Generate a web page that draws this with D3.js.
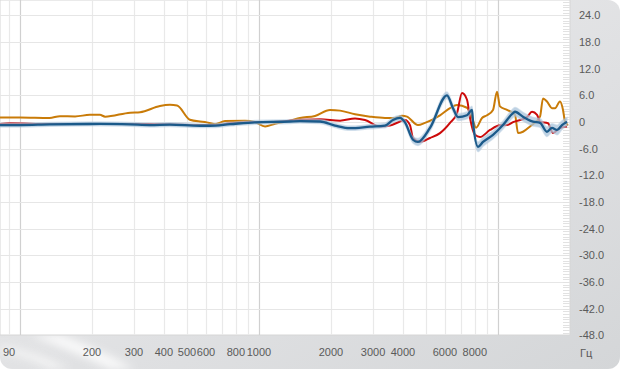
<!DOCTYPE html>
<html>
<head>
<meta charset="utf-8">
<script src="https://d3js.org/d3.v7.min.js"></script>
<style>
  body { margin: 0; background: #fff; }
  svg { display: block; font-family: "Liberation Sans", Arial, sans-serif; }
</style>
</head>
<body>
<script>
// frequency response, three measurements

var yTicks = [24, 18, 12, 6, 0, -6, -12, -18, -24, -30, -36, -42, -48];
var xLabels = [90, 200, 300, 400, 500, 600, 800, 1000, 2000, 3000, 4000, 6000, 8000];

var orangeF = [82, 100, 133, 147, 170, 196, 216, 227, 289, 318, 385, 424, 454, 514, 566, 594, 655, 721, 874, 962,
  1060, 1167, 1348, 1484, 1715, 1982, 2183, 2522, 2914, 3367, 3707, 3966, 4162, 4626, 4950, 5719, 6298, 6738,
  7419, 7785, 8091, 8573, 8995, 9530, 9904, 10190, 10910, 11780, 12130, 12720, 13610, 14990, 15430, 16030,
  16820, 17320, 18170, 18710, 19070, 19630];
var orangeDb = [1.0, 1.0, 0.9, 1.3, 1.25, 1.6, 1.6, 1.2, 2.1, 2.2, 3.6, 3.85, 3.7, 0.5, 0.1, 0.0, -0.5, 0.2, 0.3, 0.0,
  -1.0, -0.4, 0.3, 0.9, 1.35, 2.7, 2.55, 1.75, 1.2, 0.9, 0.9, 1.4, 1.2, -0.7, -0.2, 1.5, 3.1, 3.8,
  3.2, 1.0, -1.3, 0.9, 1.5, 2.7, 6.8, 3.5, 2.7, 1.6, -2.5, -2.2, -1.0, 1.2, 5.3, 4.6,
  3.1, 3.1, 4.6, 2.7, 0.1, -0.7];

var redF = [82, 91, 133, 350, 566, 655, 756, 917, 1112, 1484, 1800, 2183, 2522, 2777, 3208, 3533, 3890, 4082,
  4283, 4409, 4717, 5194, 5719, 6298, 6738, 7071, 7419, 7636, 8013, 8408, 9259, 10190, 10910, 11560, 13220,
  13880, 14570, 14990, 16190, 16990, 18170, 19440];
var redDb = [-0.45, -0.3, -0.45, -0.45, -0.7, -0.7, -0.3, -0.05, 0.0, 0.45, 0.6, 0.3, 0.8, 0.45, -1.0, -0.8, 0.1, 0.45,
  -0.7, -3.6, -4.5, -3.6, -2.5, -0.2, 2.0, 6.5, 5.0, 0.9, -2.9, -3.4, -1.8, -0.75, -0.7, -0.05, 1.1,
  2.3, 1.6, 0.05, -0.3, -2.5, -1.35, -1.0];

var blueF = [82, 100, 133, 216, 289, 350, 424, 566, 624, 756, 962, 1348, 1484, 1800, 2080, 2403, 2914, 3367, 3637,
  3890, 4082, 4409, 4626, 5194, 6118, 6482, 6803, 7419, 7785, 7861, 8249, 8656, 9530, 10490, 11560, 11780,
  12720, 14010, 14990, 16030, 16820, 17660, 18520, 19440];
var blueDb = [-0.7, -0.7, -0.55, -0.45, -0.55, -0.7, -0.6, -0.85, -0.85, -0.5, -0.07, 0.1, 0.2, 0.1, -0.8, -1.4, -1.05, -0.8, 0.45,
  0.9, -0.1, -4.0, -4.5, -1.35, 6.0, 3.1, 1.1, 1.5, 2.7, 0.0, -5.6, -4.5, -2.9, -0.7, 2.0, 2.3,
  1.2, 0.07, -0.2, -2.2, -1.35, -1.8, -0.7, 0.07];
// spread of the blue measurement (dB either side)
var blueSpread = [0.15, 0.15, 0.15, 0.15, 0.15, 0.15, 0.15, 0.15, 0.15, 0.15, 0.15, 0.15, 0.15, 0.2, 0.2, 0.2, 0.2, 0.25, 0.3,
  0.3, 0.35, 0.45, 0.5, 0.45, 0.5, 0.5, 0.5, 0.5, 0.55, 0.6, 0.8, 0.7, 0.6, 0.6, 0.7, 0.7,
  0.7, 0.7, 0.7, 0.8, 0.7, 0.8, 0.7, 0.6];

var W = 620, H = 369;
var plotW = 570, plotH = 335;

var svg = d3.select('body').append('svg')
  .attr('width', W)
  .attr('height', H);

var defs = svg.append('defs');
var grad = defs.append('linearGradient').attr('id', 'frame')
  .attr('x1', 0).attr('y1', 0).attr('x2', 1).attr('y2', 1);
grad.append('stop').attr('offset', '0%').attr('stop-color', '#eeeeef');
grad.append('stop').attr('offset', '60%').attr('stop-color', '#dfe0e2');
grad.append('stop').attr('offset', '100%').attr('stop-color', '#d4d6d8');

defs.append('filter').attr('id', 'blur')
  .append('feGaussianBlur').attr('stdDeviation', 4);

defs.append('clipPath').attr('id', 'plotclip')
  .append('rect').attr('width', plotW).attr('height', plotH);

// outer frame
svg.append('rect')
  .attr('width', W).attr('height', H)
  .attr('rx', 12).attr('ry', 12)
  .attr('fill', 'url(#frame)');

// light streaks at bottom left
var streaks = svg.append('g').attr('filter', 'url(#blur)').attr('opacity', 0.8);
streaks.append('path')
  .attr('d', 'M30,335 Q70,350 110,369 L135,369 Q90,345 60,335 Z')
  .attr('fill', '#ffffff');
streaks.append('path')
  .attr('d', 'M0,345 Q40,352 70,369 L50,369 Q25,356 0,352 Z')
  .attr('fill', '#f8f8f8');

// plot background
svg.append('rect')
  .attr('width', plotW).attr('height', plotH)
  .attr('fill', '#ffffff')
  .attr('stroke', '#d6d6d6');

var x = d3.scaleLog().domain([1000, 10000]).range([259, 498]);
var y = d3.scaleLinear().domain([-48, 24]).range([335.3, 15.3]);

var plot = svg.append('g').attr('clip-path', 'url(#plotclip)');

// vertical grid
var gridF = [];
[10, 100, 1000, 10000].forEach(function (d) {
  for (var k = 1; k < 10; k++) gridF.push(d * k);
});
gridF = gridF.filter(function (f) { return x(f) > 0 && x(f) < plotW; });
var majors = [100, 1000, 10000];

plot.selectAll('.vgrid')
  .data(gridF)
  .enter().append('line')
  .attr('class', 'vgrid')
  .attr('x1', function (d) { return Math.round(x(d)) + 0.5; })
  .attr('x2', function (d) { return Math.round(x(d)) + 0.5; })
  .attr('y1', 0).attr('y2', plotH)
  .attr('stroke', function (d) { return majors.indexOf(d) >= 0 ? '#d0d0d0' : '#e9e9e9'; })
  .attr('stroke-width', 1.2);

// horizontal grid
plot.selectAll('.hgrid')
  .data(yTicks)
  .enter().append('line')
  .attr('class', 'hgrid')
  .attr('x1', 0).attr('x2', plotW)
  .attr('y1', function (d) { return Math.round(y(d)) + 0.5; })
  .attr('y2', function (d) { return Math.round(y(d)) + 0.5; })
  .attr('stroke', '#e6e6e6')
  .attr('stroke-width', 1.2);

// small ticks on the right edge every 0.6 dB
var minor = d3.range(-48, 28, 0.6);
plot.selectAll('.mtick')
  .data(minor)
  .enter().append('line')
  .attr('class', 'mtick')
  .attr('x1', plotW - 7).attr('x2', plotW)
  .attr('y1', function (d) { return Math.round(y(d)) + 0.5; })
  .attr('y2', function (d) { return Math.round(y(d)) + 0.5; })
  .attr('stroke', '#e2e2e2');

var line = d3.line()
  .x(function (d) { return x(d[0]); })
  .y(function (d) { return y(d[1]); })
  .curve(d3.curveMonotoneX);

var band = d3.area()
  .x(function (d) { return x(d[0]); })
  .y0(function (d) { return y(d[1] - d[2]) + 1.2; })
  .y1(function (d) { return y(d[1] + d[2]) - 1.2; })
  .curve(d3.curveMonotoneX);

var orange = d3.zip(orangeF, orangeDb);
var red = d3.zip(redF, redDb);
var blue = d3.zip(blueF, blueDb, blueSpread);

plot.append('path').datum(orange)
  .attr('d', line).attr('fill', 'none')
  .attr('stroke', '#c97b08').attr('stroke-width', 2);

plot.append('path').datum(red)
  .attr('d', line).attr('fill', 'none')
  .attr('stroke', '#cc0a0a').attr('stroke-width', 2);

// blue spread band then blue line
plot.append('path').datum(blue)
  .attr('d', band)
  .attr('fill', '#a9c3db').attr('opacity', 0.75)
  .attr('stroke', '#a9c3db').attr('stroke-width', 1.5).attr('stroke-opacity', 0.6);

plot.append('path').datum(blue)
  .attr('d', line).attr('fill', 'none')
  .attr('stroke', '#1b5a8a').attr('stroke-width', 2.3);

// y labels
svg.selectAll('.ylab')
  .data(yTicks)
  .enter().append('text')
  .attr('class', 'ylab')
  .attr('x', 579)
  .attr('y', function (d) { return y(d) + 4; })
  .attr('font-size', 11)
  .attr('fill', '#5a5a5a')
  .text(function (d) { return d === 0 ? '0' : d.toFixed(1); });

// x labels
svg.selectAll('.xlab')
  .data(xLabels)
  .enter().append('text')
  .attr('class', 'xlab')
  .attr('x', function (d) { return x(d); })
  .attr('y', 356)
  .attr('text-anchor', 'middle')
  .attr('font-size', 11)
  .attr('fill', '#5a5a5a')
  .text(function (d) { return d; });

svg.append('text')
  .attr('x', 580).attr('y', 357)
  .attr('font-size', 11)
  .attr('fill', '#5a5a5a')
  .text('Гц');
</script>
</body>
</html>
